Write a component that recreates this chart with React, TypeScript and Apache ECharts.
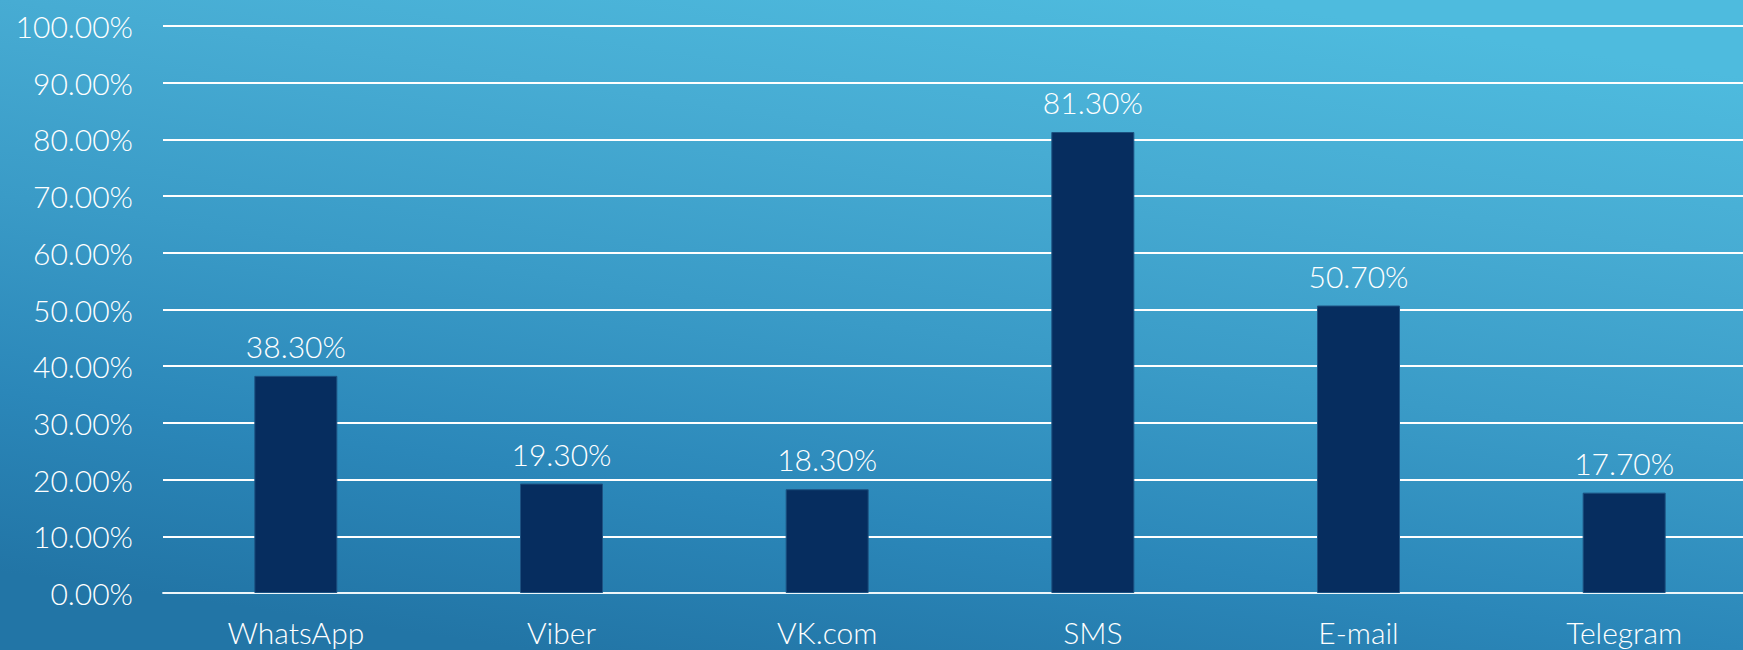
import React, { useEffect, useRef } from "react";
import * as echarts from "echarts";

const categories = ["WhatsApp", "Viber", "VK.com", "SMS", "E-mail", "Telegram"];
const values = [38.3, 19.3, 18.3, 81.3, 50.7, 17.7];
const yMin = 0;
const yMax = 100;
const yInterval = 10;

export default function App() {
  const ref = useRef<HTMLDivElement>(null);

  useEffect(() => {
    if (!ref.current) return;
    document.documentElement.style.overflow = "hidden";
    document.body.style.overflow = "hidden";
    const chart = echarts.init(ref.current, undefined, { renderer: "svg" });
    const font = "Lato, 'Open Sans', sans-serif";
    chart.setOption({
      animation: false,
      backgroundColor: {
        type: "linear",
        x: 0.7,
        y: 0,
        x2: 0.3,
        y2: 1,
        colorStops: [
          { offset: 0, color: "#4ebbde" },
          { offset: 0.24, color: "#47acd3" },
          { offset: 0.5, color: "#3a9bc7" },
          { offset: 0.76, color: "#2b87b9" },
          { offset: 1, color: "#2275a6" },
        ],
      },
      grid: { left: 163, right: 0, top: 26, bottom: 57, containLabel: false },
      xAxis: {
        type: "category",
        data: categories,
        axisTick: { show: false },
        axisLine: { show: true, lineStyle: { color: "rgba(235,245,250,0.9)", width: 2 } },
        axisLabel: { color: "#ffffff", fontSize: 30, fontWeight: 300, fontFamily: font, margin: 24 },
      },
      yAxis: {
        type: "value",
        min: yMin,
        max: yMax,
        interval: yInterval,
        axisLine: { show: false },
        axisTick: { show: false },
        splitLine: { show: true, lineStyle: { color: "#ffffff", width: 2 } },
        axisLabel: {
          color: "#ffffff",
          fontSize: 30,
          fontWeight: 300,
          fontFamily: font,
          margin: 30,
          formatter: (v: number) => v.toFixed(2) + "%",
        },
      },
      series: [
        {
          type: "bar",
          data: values,
          barWidth: 83,
          itemStyle: { color: "#062d5f", borderColor: "#1d5282", borderWidth: 1 },
          label: {
            show: true,
            position: "top",
            distance: 15,
            color: "#ffffff",
            fontSize: 30,
            fontWeight: 300,
            fontFamily: font,
            formatter: (p: any) => Number(p.value).toFixed(2) + "%",
          },
        },
      ],
    });
    return () => chart.dispose();
  }, []);

  return (
    <div
      ref={ref}
      style={{ position: "fixed", left: 0, top: 0, width: 1757, height: 650 }}
    />
  );
}
